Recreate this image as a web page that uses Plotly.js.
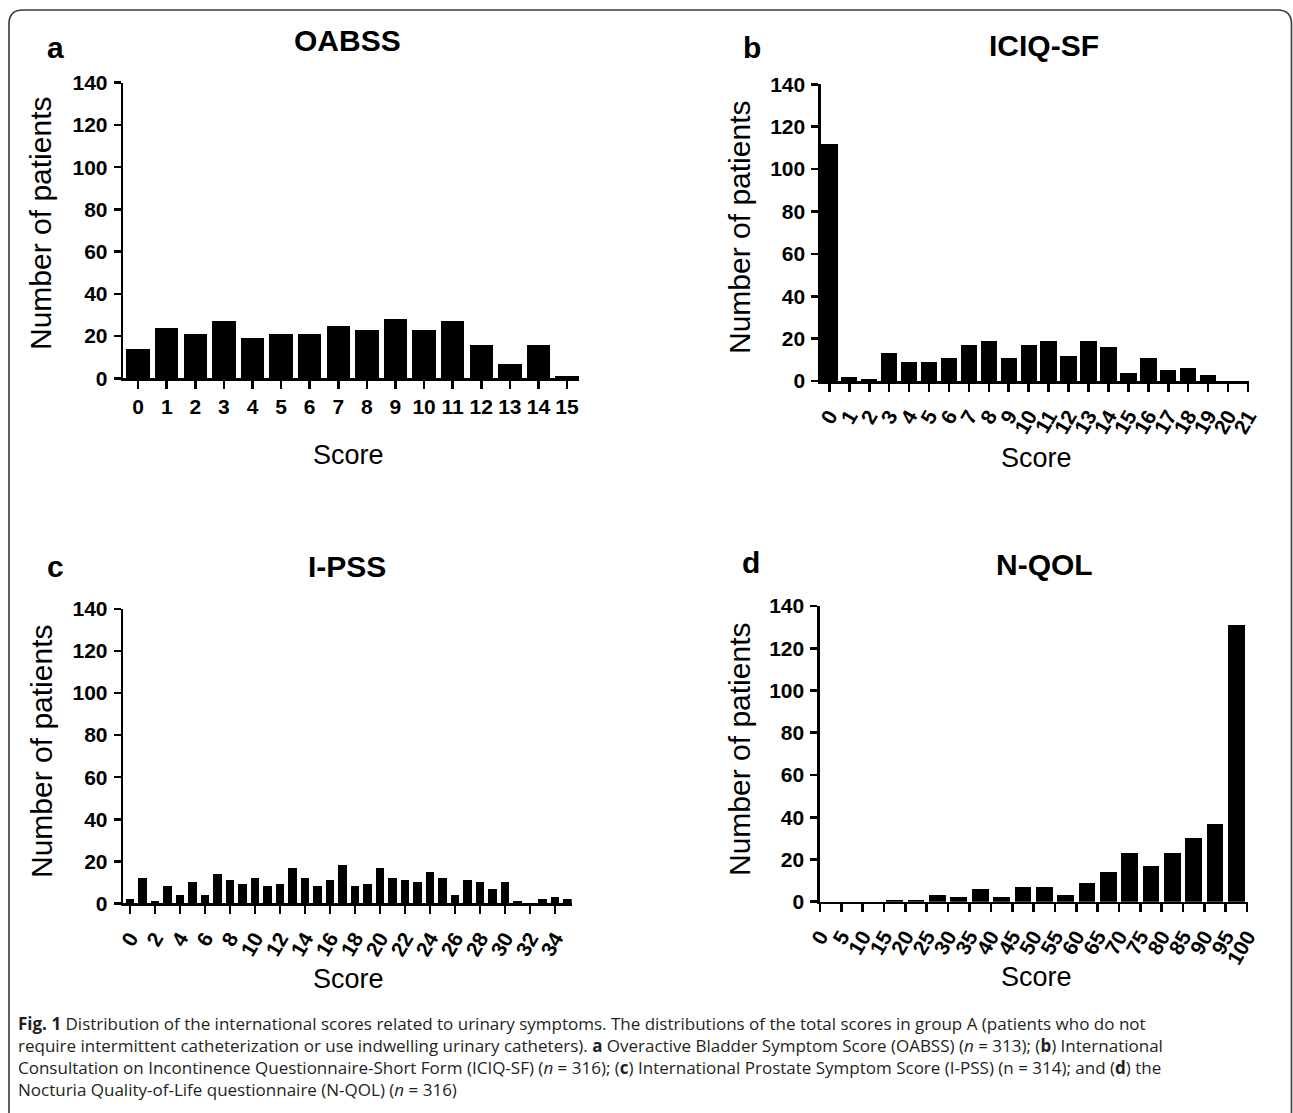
<!DOCTYPE html>
<html>
<head>
<meta charset="utf-8">
<script src="https://cdn.plot.ly/plotly-3.0.1.min.js"></script>
<style>
  html, body { margin: 0; padding: 0; background: #ffffff; }
  #chart { width: 1293px; height: 1113px; }
</style>
</head>
<body>
<div id="chart"></div>
<script>
// ---------------- DATA ----------------
const oabssScores = [0,1,2,3,4,5,6,7,8,9,10,11,12,13,14,15];
const oabssCounts = [14,24,21,27,19,21,21,25,23,28,23,27,16,7,16,1];

const iciqScores = [0,1,2,3,4,5,6,7,8,9,10,11,12,13,14,15,16,17,18,19,20,21];
const iciqCounts = [112,2,1,13,9,9,11,17,19,11,17,19,12,19,16,4,11,5,6,3,0,0];

const ipssScores = [0,1,2,3,4,5,6,7,8,9,10,11,12,13,14,15,16,17,18,19,20,21,22,23,24,25,26,27,28,29,30,31,32,33,34,35];
const ipssCounts = [2,12,1,8,4,10,4,14,11,9,12,8,9,17,12,8,11,18,8,9,17,12,11,10,15,12,4,11,10,7,10,1,0,2,3,2];
const ipssTickVals = [0,2,4,6,8,10,12,14,16,18,20,22,24,26,28,30,32,34];

const nqolBinStart = [0,5,10,15,20,25,30,35,40,45,50,55,60,65,70,75,80,85,90,95];
const nqolCounts   = [0,0,0,1,1,3,2,6,2,7,7,3,9,14,23,17,23,30,37,131];
const nqolTickVals = [0,5,10,15,20,25,30,35,40,45,50,55,60,65,70,75,80,85,90,95,100];

const yTickVals = [0,20,40,60,80,100,120,140];

const panelTitles  = ["OABSS", "ICIQ-SF", "I-PSS", "N-QOL"];
const panelLetters = ["a", "b", "c", "d"];
const xAxisTitle = "Score";
const yAxisTitle = "Number of patients";

const captionLines = [
  "<b>Fig. 1</b> Distribution of the international scores related to urinary symptoms. The distributions of the total scores in group A (patients who do not",
  "require intermittent catheterization or use indwelling urinary catheters). <b>a</b> Overactive Bladder Symptom Score (OABSS) (<i>n</i> = 313); (<b>b</b>) International",
  "Consultation on Incontinence Questionnaire-Short Form (ICIQ-SF) (<i>n</i> = 316); (<b>c</b>) International Prostate Symptom Score (I-PSS) (n = 314); and (<b>d</b>) the",
  "Nocturia Quality-of-Life questionnaire (N-QOL) (<i>n</i> = 316)"
];

// ---------------- LAYOUT HELPERS ----------------
const W = 1293, H = 1113;
const FONT = "Liberation Sans, Arial, Helvetica, sans-serif";
const CAPFONT = "Open Sans, Noto Sans, sans-serif";
const px = v => v / W;
const py = v => 1 - v / H;

// pixel boxes of plot areas: [left, right, top, bottom]
const boxes = [
  [123.3, 579, 82.7, 378.3],
  [821, 1249, 84.3, 381],
  [123.3, 571.7, 609, 903.3],
  [820, 1248, 606, 901.7]
];

const traces = [
  { type: "bar", x: oabssScores, y: oabssCounts, width: 0.82, xaxis: "x", yaxis: "y",
    marker: { color: "#000000", line: { width: 0 } }, hoverinfo: "x+y" },
  { type: "bar", x: iciqScores, y: iciqCounts, width: 0.82, xaxis: "x2", yaxis: "y2",
    marker: { color: "#000000", line: { width: 0 } }, hoverinfo: "x+y" },
  { type: "bar", x: ipssScores, y: ipssCounts, width: 0.68, xaxis: "x3", yaxis: "y3",
    marker: { color: "#000000", line: { width: 0 } }, hoverinfo: "x+y" },
  { type: "bar", x: nqolBinStart, y: nqolCounts, width: 3.9, offset: 0.55, xaxis: "x4", yaxis: "y4",
    marker: { color: "#000000", line: { width: 0 } }, hoverinfo: "x+y" }
];

const tickFont = { family: FONT, size: 21, color: "#000000", weight: 700 };

function yAxis(i) {
  const b = boxes[i];
  return {
    domain: [py(b[3]), py(b[2])],
    range: [0, 140],
    tickvals: yTickVals,
    showline: true, linecolor: "#000000", linewidth: 2.6,
    ticks: "outside", ticklen: 7, tickwidth: 2.6, tickcolor: "#000000",
    showgrid: false, zeroline: false,
    tickfont: tickFont,
    ticklabelstandoff: 2,
    anchor: i === 0 ? "x" : "x" + (i + 1),
    fixedrange: true
  };
}
function xAxis(i, range, tickvals, angle) {
  const b = boxes[i];
  return {
    domain: [px(b[0]), px(b[1])],
    range: range,
    tickvals: tickvals,
    tickangle: angle,
    showline: true, linecolor: "#000000", linewidth: 2.6,
    ticks: "outside", ticklen: 8, tickwidth: 2.6, tickcolor: "#000000",
    showgrid: false, zeroline: false,
    tickfont: tickFont,
    ticklabelstandoff: angle === 0 ? 0 : 4,
    anchor: i === 0 ? "y" : "y" + (i + 1),
    fixedrange: true
  };
}

const annotations = [];
// panel titles and letters
const titlePos = [[347, 41], [1044, 45], [347, 566], [1044, 564]];
const letterPos = [[55, 48], [752, 48], [55, 566], [751, 562]];
for (let i = 0; i < 4; i++) {
  annotations.push({ xref: "paper", yref: "paper", x: px(titlePos[i][0]), y: py(titlePos[i][1]),
    xanchor: "center", yanchor: "middle", showarrow: false, text: panelTitles[i],
    font: { family: FONT, size: 30, color: "#000000", weight: 700 } });
  annotations.push({ xref: "paper", yref: "paper", x: px(letterPos[i][0]), y: py(letterPos[i][1]),
    xanchor: "center", yanchor: "middle", showarrow: false, text: panelLetters[i],
    font: { family: FONT, size: 30, color: "#000000", weight: 700 } });
}
// axis titles
const scorePos = [[348, 455], [1036, 458], [348, 979], [1036, 977]];
const ylabPos = [[41, 224], [739, 228], [41, 752], [739, 750]];
for (let i = 0; i < 4; i++) {
  annotations.push({ xref: "paper", yref: "paper", x: px(scorePos[i][0]), y: py(scorePos[i][1]),
    xanchor: "center", yanchor: "middle", showarrow: false, text: xAxisTitle,
    font: { family: FONT, size: 27, color: "#000000" } });
  annotations.push({ xref: "paper", yref: "paper", x: px(ylabPos[i][0]), y: py(ylabPos[i][1]),
    xanchor: "center", yanchor: "middle", showarrow: false, text: yAxisTitle, textangle: -90,
    font: { family: FONT, size: 30, color: "#000000" } });
}
// caption (one multi-line block)
annotations.push({ xref: "paper", yref: "paper", x: px(16), y: py(1056),
  xanchor: "left", yanchor: "middle", align: "left", showarrow: false,
  text: captionLines.join("<br>"),
  font: { family: CAPFONT, size: 17, color: "#231f20" } });

// rounded frame (top, left, right edges; bottom runs off the page)
const fl = px(9), fr = px(1291.5), ft = py(10), fb = py(1125);
const rx = px(14), ry = 14 / H;
const framePath = `M ${fl} ${fb} L ${fl} ${ft - ry} Q ${fl} ${ft} ${fl + rx} ${ft} L ${fr - rx} ${ft} Q ${fr} ${ft} ${fr} ${ft - ry} L ${fr} ${fb}`;

const layout = {
  width: W, height: H,
  margin: { l: 0, r: 0, t: 0, b: 0 },
  paper_bgcolor: "#ffffff", plot_bgcolor: "#ffffff",
  showlegend: false,
  bargap: 0,
  xaxis: xAxis(0, [-0.52, 15.42], oabssScores, 0),
  yaxis: yAxis(0),
  xaxis2: xAxis(1, [-0.42, 21.05], iciqScores, -60),
  yaxis2: yAxis(1),
  xaxis3: xAxis(2, [-0.53, 35.33], ipssTickVals, -60),
  yaxis3: yAxis(2),
  xaxis4: xAxis(3, [0, 100.2], nqolTickVals, -60),
  yaxis4: yAxis(3),
  annotations: annotations,
  shapes: [{ type: "path", xref: "paper", yref: "paper", path: framePath,
    line: { color: "#3a3a3a", width: 1.6 } }]
};

Plotly.newPlot("chart", traces, layout, { displayModeBar: false, staticPlot: true });
</script>
</body>
</html>
